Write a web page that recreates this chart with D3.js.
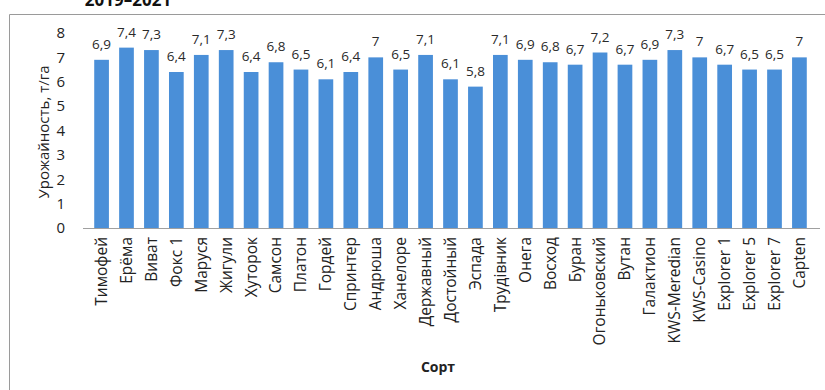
<!DOCTYPE html>
<html><head><meta charset="utf-8">
<script src="https://cdn.jsdelivr.net/npm/d3@7/dist/d3.min.js"></script>
<style>body{margin:0;background:#fff}svg{display:block}</style>
</head><body>
<svg id="c" width="825" height="390"></svg>
<script>
const categories = ["Тимофей","Ерёма","Виват","Фокс 1","Маруся","Жигули","Хуторок","Самсон","Платон","Гордей","Спринтер","Андрюша","Ханелоре","Державный","Достойный","Эспада","Трудівник","Онега","Восход","Буран","Огоньковский","Вутан","Галактион","KWS-Meredian","KWS-Casino","Explorer 1","Explorer 5","Explorer 7","Capten"];
const yields = [6.9,7.4,7.3,6.4,7.1,7.3,6.4,6.8,6.5,6.1,6.4,7,6.5,7.1,6.1,5.8,7.1,6.9,6.8,6.7,7.2,6.7,6.9,7.3,7,6.7,6.5,6.5,7];
const yTicks = [0,1,2,3,4,5,6,7,8];
const titleText = "2019–2021";
const yTitle = "Урожайность, т/га";
const xTitle = "Сорт";

(function(){
const svg = d3.select("#c");
const font = "'Open Sans', 'Noto Sans', sans-serif";
const pL = 84, pR = 817, pT = 33, pB = 228;

svg.append("path").attr("d","M9.5,390 V14.5 H825").attr("fill","none").attr("stroke","#9a9a9a").attr("stroke-width",1);
svg.append("text").attr("x",128).attr("y",6).attr("text-anchor","middle")
  .attr("font-family",font).attr("font-weight","bold").attr("font-size",17).attr("fill","#111").text(titleText);

const x = d3.scaleBand().domain(categories).range([pL,pR]).padding(0.41);
const y = d3.scaleLinear().domain([0,8]).range([pB,pT]);

svg.append("g").selectAll("rect").data(yields).join("rect")
  .attr("x",(d,i)=>x(categories[i])).attr("width",x.bandwidth())
  .attr("y",d=>y(d)).attr("height",d=>pB-y(d)).attr("fill","#4a8fd8");

svg.append("g").selectAll("text").data(yields).join("text")
  .attr("x",(d,i)=>x(categories[i])+x.bandwidth()/2).attr("y",d=>y(d)-11)
  .attr("text-anchor","middle").attr("font-family",font).attr("font-size",13.5).attr("fill","#2a2a2a")
  .text(d=>String(d).replace(".",","));

const gx = svg.append("g").attr("transform",`translate(0,${pB})`).call(d3.axisBottom(x).tickSize(0).tickPadding(0));
gx.select(".domain").attr("stroke","#a0a0a0").attr("d",`M${pL-1},0.5H${pR+3}`);
gx.selectAll("text").attr("font-family",font).attr("font-size",15.5).attr("fill","#222")
  .attr("transform","rotate(-90)").attr("text-anchor","end").attr("x",-9).attr("y",0).attr("dy","0.35em");

const gy = svg.append("g").attr("transform",`translate(${pL},0)`).call(d3.axisLeft(y).tickValues(yTicks).tickSize(0).tickPadding(19));
gy.select(".domain").remove();
gy.selectAll("text").attr("font-family",font).attr("font-size",15).attr("fill","#222");

svg.append("text").attr("transform",`translate(44,132) rotate(-90)`).attr("text-anchor","middle").attr("dy","0.35em")
  .attr("font-family",font).attr("font-size",15).attr("fill","#222").text(yTitle);
svg.append("text").attr("x",438).attr("y",372).attr("text-anchor","middle")
  .attr("font-family",font).attr("font-weight","bold").attr("font-size",14).attr("fill","#222").text(xTitle);
})();
</script>
</body></html>
